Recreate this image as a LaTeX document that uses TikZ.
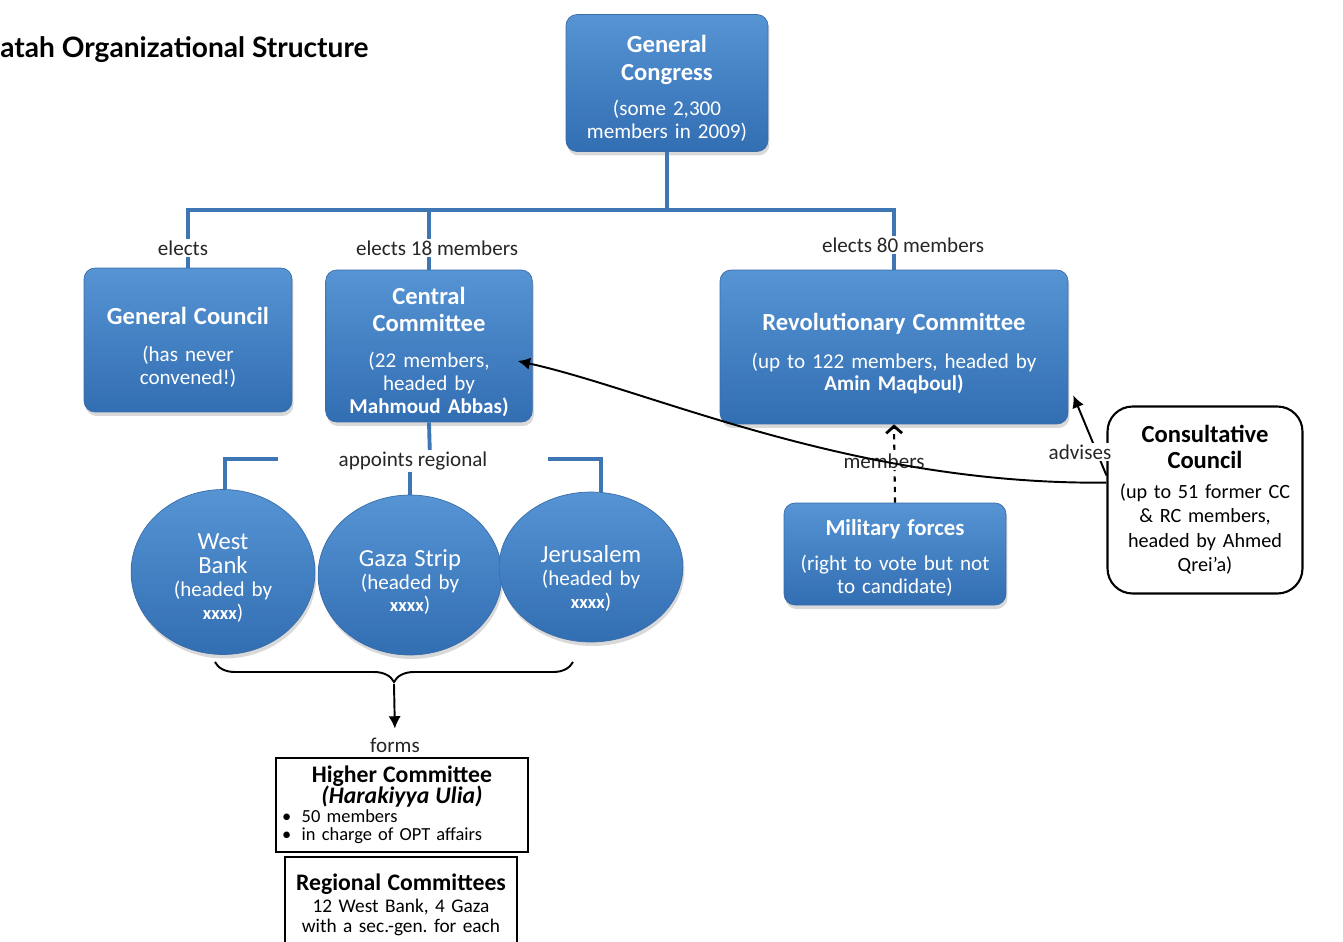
\documentclass[tikz,border=0pt]{standalone}
\usepackage{fontspec}
\setmainfont{Carlito}
\newfontfamily\titlefont{Lato}
\usetikzlibrary{shapes.geometric, arrows.meta, shadows, decorations.pathreplacing}
\frenchspacing

\definecolor{boxtop}{RGB}{86,148,212}
\definecolor{boxbot}{RGB}{50,110,178}
\definecolor{boxedge}{RGB}{58,108,168}
\definecolor{linkblue}{RGB}{62,118,180}

\newcommand{\hd}{\fontsize{14}{15.5}\selectfont\bfseries}
\newcommand{\bd}{\fontsize{12}{13}\selectfont}
\newcommand{\xx}{{\fontsize{10.5}{12}\selectfont\bfseries xxxx}}

\begin{document}
\begin{tikzpicture}[x=0.02cm, y=-0.02cm,
    bluebox/.style={draw=boxedge, rounded corners=0.22cm, top color=boxtop, bottom color=boxbot,
      text=white, align=center, font=\bd,
      drop shadow={opacity=0.3, shadow xshift=0.03cm, shadow yshift=-0.08cm}},
    region/.style={bluebox, ellipse, inner sep=0pt, text width=2.6cm},
    outbox/.style={draw=black, line width=1.2pt, fill=white, align=center, font=\bd},
    link/.style={draw=linkblue, line width=2.2pt},
    lbl/.style={font=\bd, fill=white, inner sep=1pt, text=black!85},
    arr/.style={draw=black, line width=1.1pt, -{Latex[length=7pt,width=7pt]}},
  ]
    \useasboundingbox (0,0) rectangle (1343,941);

    \node[anchor=west, inner sep=0pt, font=\titlefont\bfseries\fontsize{16}{19}\selectfont] (title) at (0,50) {atah Organizational Structure};

    % top level
    \node[bluebox, minimum width=4.04cm, minimum height=2.74cm, text width=3.8cm] (gc) at (667,83)
      {{\hd General\\ Congress\par}\vspace{7pt}(some 2,300\\ members in 2009)\par\vspace{-6pt}};

    % elected bodies
    \node[bluebox, minimum width=4.16cm, minimum height=2.88cm, text width=3.9cm] (gcl) at (188,340)
      {{\hd General Council\par}\vspace{8pt}(has never\\ convened!)\par\vspace{-8pt}};
    \node[bluebox, minimum width=4.12cm, minimum height=3.04cm, text width=3.9cm] (cc) at (429,346)
      {{\hd Central\\ Committee\par}\vspace{7.5pt}(22 members,\\ headed by\\ \textbf{Mahmoud Abbas)}\par\vspace{-7pt}};
    \node[bluebox, minimum width=6.96cm, minimum height=3.08cm, text width=6.6cm] (rc) at (894,347)
      {{\hd Revolutionary Committee\par}\vspace{8.5pt}(up to 122 members, headed by\\ \textbf{Amin Maqboul)}\par\vspace{-7.5pt}};
    \node[bluebox, minimum width=4.44cm, minimum height=2.04cm, text width=4.2cm] (mil) at (895,554)
      {{\fontsize{13}{15}\selectfont\bfseries Military forces\par}\vspace{6.5pt}(right to vote but not\\ to candidate)\par\vspace{-4.5pt}};
    \node[outbox, rounded corners=0.5cm, minimum width=3.9cm, minimum height=3.74cm, text width=3.6cm,
      font=\fontsize{11.5}{14}\selectfont] (cons) at (1205,500)
      {{\fontsize{14}{14.5}\selectfont\bfseries Consultative\\ Council\par}\vspace{3pt}(up to 51 former CC\\ \& RC members,\\ headed by Ahmed\\ Qrei’a)\par\vspace{-6pt}};

    % regions
    \node[region, minimum width=3.4cm, minimum height=3.3cm] (wb) at (223,572)
      {{\fontsize{14}{13.5}\selectfont West\\ Bank\par}(headed by\\ \xx)\par\vspace{-7pt}};
    \node[region, minimum width=3.48cm, minimum height=3.2cm] (gs) at (410,575)
      {{\fontsize{14}{13.5}\selectfont Gaza Strip\par}(headed by\\ \xx)\par\vspace{-8pt}};
    \node[region, minimum width=3.16cm, minimum height=3.0cm] (jer) at (591,567)
      {{\fontsize{14}{13.5}\selectfont Jerusalem\par}(headed by\\ \xx)\par\vspace{-13pt}};

    % committees below
    \node[outbox, minimum width=5.02cm, minimum height=1.88cm, text width=4.8cm, align=left,
      font=\fontsize{10.5}{10.5}\selectfont] (hc) at (402,805)
      {{\centering\fontsize{13.5}{12}\selectfont\lineskiplimit=-20pt\bfseries Higher Committee\\ \itshape (Harakiyya Ulia)\par}%
       •\hspace{6pt}50 members\\ •\hspace{6pt}in charge of OPT affairs};
    \node[outbox, anchor=north, minimum width=4.6cm, minimum height=1.9cm, text width=4.4cm,
      font=\fontsize{11}{11.5}\selectfont] (reg) at (401,856)
      {{\fontsize{13.5}{14}\selectfont\bfseries Regional Committees\par}\vspace{1pt}12 West Bank, 4 Gaza\\ with a sec.-gen. for each\par\vspace{12pt}};

    % organigram lines
    \coordinate (bus) at (667,210);
    \coordinate (cbus) at (430,459);
    \draw[link] (gc.south) -- (bus);
    \draw[link] (gcl.north) |- (bus) -| (rc.north);
    \draw[link] (cc.north) -- (cc.north |- bus);
    \draw[link] (cc.south) -- (cbus);
    \draw[link] ([xshift=0.04cm]wb.north) |- (cbus) -| ([xshift=0.2cm]jer.north);
    \draw[link] (gs.north) -- (gs.north |- cbus);

    \draw[black, line width=1.2pt, dashed, -{Straight Barb[length=4pt,width=9pt,line width=1.6pt]}] (mil.north) -- (rc.south);
    \draw[arr] (cons.166) -- ([xshift=0.1cm,yshift=0.58cm]rc.south east);

    % labels
    \node[lbl] (l1) at (183,248) {elects};
    \node[lbl] (l2) at (437,248) {elects 18 members};
    \node[lbl] (l3) at (903,245) {elects 80 members};
    \node[lbl, minimum width=5.4cm] (l4) at (413,461) {appoints regional};
    \node[lbl] (l5) at (884,461) {members};
    \node[lbl] (l6) at (1080,452) {advises};
    \node[lbl] (l7) at (395,745) {forms};

    \draw[arr] (cons.170) .. controls (850,485) and (650,390) .. ([xshift=-0.3cm,yshift=-0.3cm]cc.east);

    % brace under the regions
    \coordinate (brR) at (573,662);
    \coordinate (brL) at (215,662);
    \coordinate (brtip) at (394,684);
    \draw[black, line width=1.1pt, decorate, decoration={brace, amplitude=0.4cm}] (brR) -- (brL);
    \draw[arr, shorten >=4pt] (brtip) -- (l7.north);
\end{tikzpicture}
\end{document}
